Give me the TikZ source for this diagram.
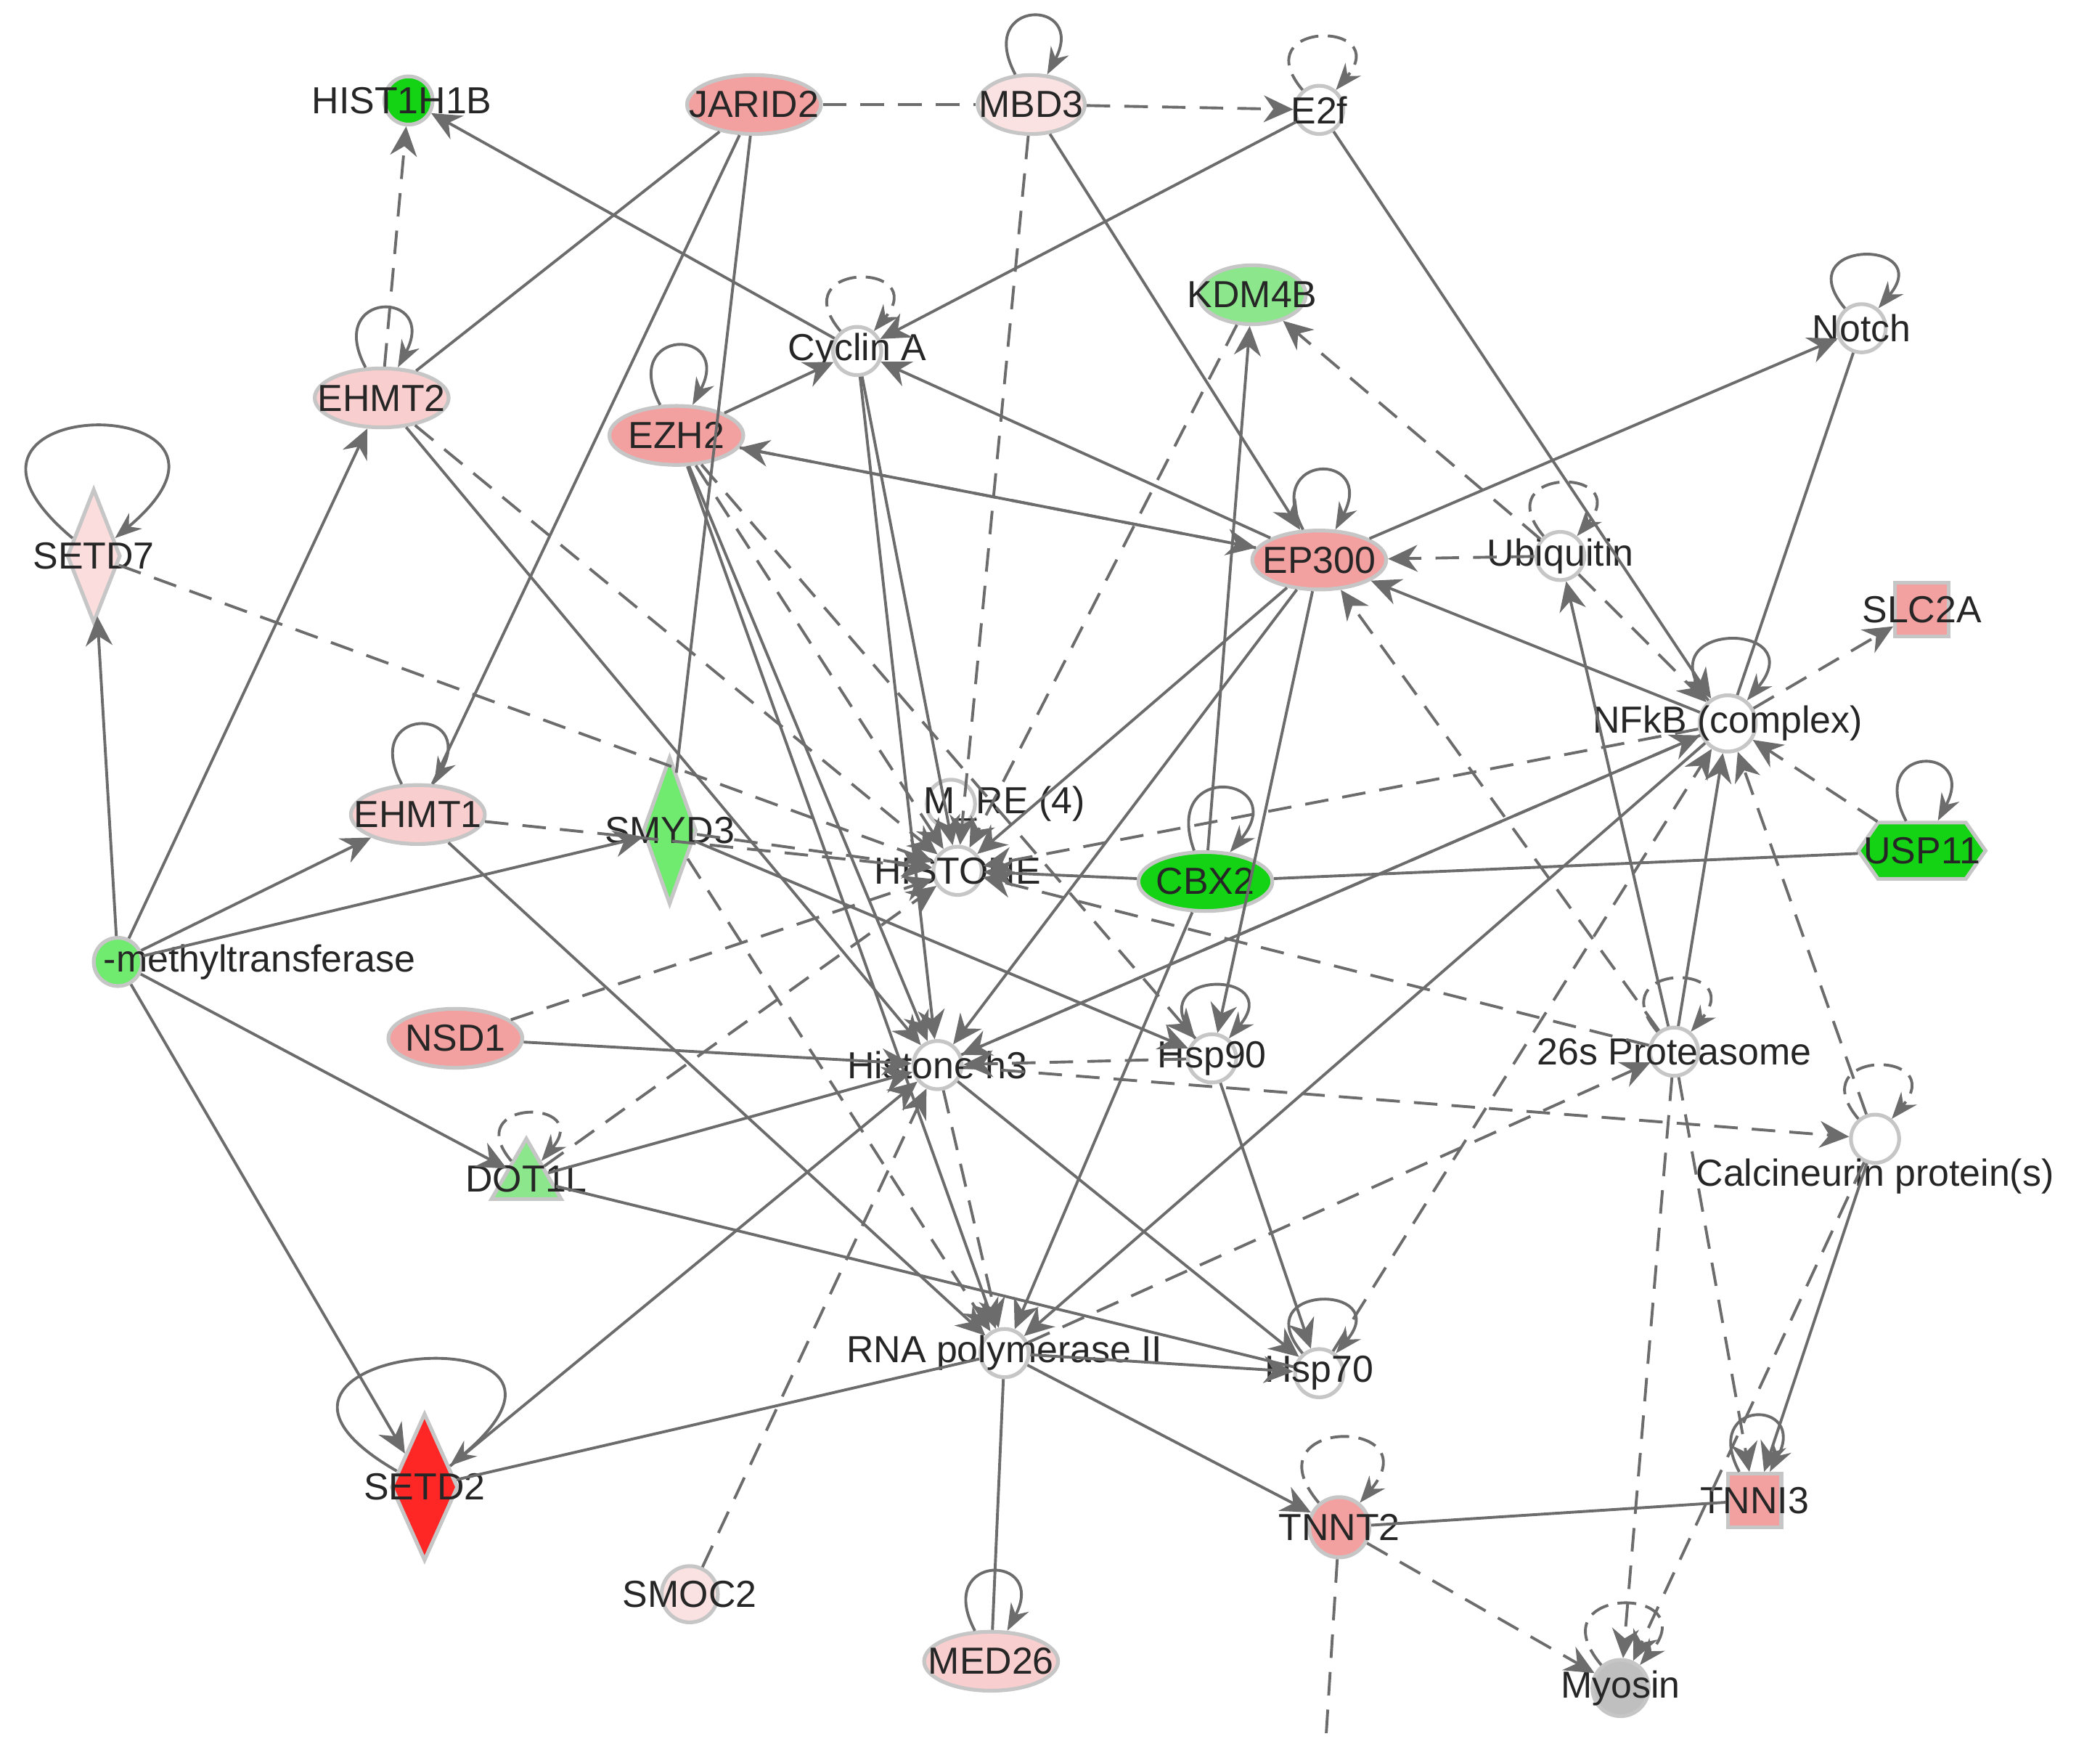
\documentclass[tikz,border=0pt]{standalone}
\usepackage{fontspec}
\setmainfont{Liberation Sans}
\usetikzlibrary{shapes.geometric,shapes.symbols,arrows.meta}
\tikzset{
  mol/.style={draw=gray!45, thick, fill=white, inner sep=0},
  circ/.style={mol, circle, minimum size=.36cm},
  ell/.style={mol, ellipse, minimum width=1.0cm, minimum height=.44cm},
  dia/.style={mol, diamond, minimum width=.4cm, minimum height=1cm},
  sq/.style={mol, rectangle, minimum size=.4cm},
  lbl/.style={font=\fontsize{8}{9}\selectfont, text=black!85},
  rel/.style={draw=gray!85!black, semithick, -{Stealth[length=2.2mm,width=2mm]}},
  line/.style={draw=gray!85!black, semithick},
  drel/.style={rel, dash pattern=on 5pt off 3pt},
  sloop/.style={draw=gray!85!black, semithick, -{Stealth[length=2mm]}, looseness=7},
}
\definecolor{pinkA}{RGB}{249,206,206}
\definecolor{pinkB}{RGB}{243,160,160}
\definecolor{greenA}{RGB}{140,230,140}
\definecolor{greenB}{RGB}{20,210,20}
\begin{document}
\begin{tikzpicture}
\useasboundingbox (0,0) rectangle (15.68,-12.98);
% nodes
\node[circ, fill=greenB] (hist1) at (3.05,-.75) {};
\node[lbl] at (3.0,-.75) {HIST1H1B};
\node[ell, fill=pinkB] (jarid2) at (5.63,-.78) {};
\node[lbl] at (5.63,-.78) {JARID2};
\node[ell, fill=pinkA!60, minimum width=.8cm] (mbd3) at (7.7,-.78) {};
\node[lbl] at (7.7,-.78) {MBD3};
\node[circ] (e2f) at (9.85,-.82) {};
\node[lbl] at (9.85,-.82) {E2f};
\node[ell, fill=greenA, minimum width=.8cm] (kdm4b) at (9.35,-2.2) {};
\node[lbl] at (9.35,-2.2) {KDM4B};
\node[circ] (cycA) at (6.4,-2.62) {};
\node[lbl] at (6.4,-2.62) {Cyclin A};
\node[circ] (notch) at (13.9,-2.45) {};
\node[lbl] at (13.9,-2.45) {Notch};
\node[ell, fill=pinkA] (ehmt2) at (2.85,-2.97) {};
\node[lbl] at (2.85,-2.97) {EHMT2};
\node[ell, fill=pinkB] (ezh2) at (5.05,-3.25) {};
\node[lbl] at (5.05,-3.25) {EZH2};
\node[dia, fill=pinkA!70] (setd7) at (.7,-4.15) {};
\node[lbl] at (.7,-4.15) {SETD7};
\node[ell, fill=pinkB] (ep300) at (9.85,-4.18) {};
\node[lbl] at (9.85,-4.18) {EP300};
\node[circ] (ubiq) at (11.65,-4.15) {};
\node[lbl] at (11.65,-4.15) {Ubiquitin};
\node[sq, fill=pinkB] (slc2a) at (14.35,-4.55) {};
\node[lbl] at (14.35,-4.55) {SLC2A};
\node[circ, minimum size=.42cm] (nfkb) at (12.9,-5.4) {};
\node[lbl] at (12.9,-5.4) {NFkB (complex)};
\node[mol, signal, signal to=east and west, signal pointer angle=110, minimum width=.95cm, minimum height=.42cm, fill=greenB] (usp11) at (14.35,-6.35) {};
\node[lbl] at (14.35,-6.35) {USP11};
\node[ell, fill=pinkA] (ehmt1) at (3.12,-6.08) {};
\node[lbl] at (3.12,-6.08) {EHMT1};
\node[dia, fill=greenA!80!green, minimum height=1.1cm] (smyd3) at (5.0,-6.2) {};
\node[lbl] at (5.0,-6.2) {SMYD3};
\node[circ] (mre) at (7.1,-6.0) {};
\node[lbl] at (7.5,-6.0) {M\_RE (4)};
\node[circ] (histone) at (7.15,-6.5) {};
\node[lbl] at (7.15,-6.5) {HISTONE};
\node[ell, fill=greenB] (cbx2) at (9.0,-6.58) {};
\node[lbl] at (9.0,-6.58) {CBX2};
\node[circ, fill=greenA!80!green] (mtf) at (.88,-7.18) {};
\node[lbl, anchor=west] at (.65,-7.18) {-methyltransferase};
\node[ell, fill=pinkB] (nsd1) at (3.4,-7.75) {};
\node[lbl] at (3.4,-7.75) {NSD1};
\node[circ] (h3) at (7.0,-7.95) {};
\node[lbl] at (7.0,-7.95) {Histone h3};
\node[circ] (hsp90) at (9.05,-7.9) {};
\node[lbl] at (9.05,-7.9) {Hsp90};
\node[circ] (p26s) at (12.5,-7.85) {};
\node[lbl] at (12.5,-7.85) {26s Proteasome};
\node[circ] (calc) at (14.0,-8.5) {};
\node[lbl] at (14.0,-8.78) {Calcineurin protein(s)};
\node[mol, regular polygon, regular polygon sides=3, minimum size=.6cm, fill=greenA] (dot1l) at (3.93,-8.8) {};
\node[lbl] at (3.93,-8.8) {DOT1L};
\node[circ] (rnap) at (7.5,-10.1) {};
\node[lbl] at (7.5,-10.1) {RNA polymerase II};
\node[circ] (hsp70) at (9.85,-10.25) {};
\node[lbl] at (9.85,-10.25) {Hsp70};
\node[dia, fill=red!85, minimum width=.5cm, minimum height=1.1cm] (setd2) at (3.17,-11.1) {};
\node[lbl] at (3.17,-11.1) {SETD2};
\node[circ, fill=pinkB, minimum size=.45cm] (tnnt2) at (10.0,-11.4) {};
\node[lbl] at (10.0,-11.4) {TNNT2};
\node[sq, fill=pinkB] (tnni3) at (13.1,-11.2) {};
\node[lbl] at (13.1,-11.2) {TNNI3};
\node[circ, fill=pinkA!60, minimum size=.42cm] (smoc2) at (5.15,-11.9) {};
\node[lbl] at (5.15,-11.9) {SMOC2};
\node[ell, fill=pinkA] (med26) at (7.4,-12.4) {};
\node[lbl] at (7.4,-12.4) {MED26};
\node[circ, fill=gray!50, minimum size=.42cm] (myosin) at (12.1,-12.6) {};
\node[lbl] at (12.1,-12.6) {Myosin};
\coordinate (off) at (9.9,-12.98);
% self loops
\foreach \n in {notch,nfkb,hsp90,hsp70}
  \draw[sloop] (\n) to[out=130,in=50] (\n);
\foreach \n in {mbd3,ehmt2,ezh2,ep300,usp11,ehmt1,tnni3,med26}
  \draw[sloop, looseness=7] (\n) to[out=118,in=62] (\n);
\foreach \n in {e2f,cycA,ubiq,p26s,calc,dot1l,tnnt2,myosin}
  \draw[sloop, dash pattern=on 4pt off 2pt] (\n) to[out=130,in=50] (\n);
\draw[sloop, looseness=14] (setd7) to[out=140,in=40] (setd7);
\draw[sloop, looseness=12] (setd2) to[out=150,in=40] (setd2);
\draw[sloop] (cbx2) to[out=110,in=50] (cbx2);
% solid edges
\foreach \a/\b in {cycA/hist1,e2f/cycA,e2f/nfkb,mbd3/ep300,ezh2/cycA,ezh2/ep300,ezh2/h3,ezh2/rnap,
  ep300/cycA,ep300/histone,ep300/h3,ep300/notch,cbx2/kdm4b,nfkb/ep300,p26s/nfkb,p26s/ubiq,
  calc/tnni3,nfkb/rnap,rnap/tnnt2,rnap/hsp70,dot1l/h3,mtf/setd7,mtf/ehmt2,mtf/ehmt1,mtf/smyd3,
  mtf/dot1l,mtf/setd2,ehmt1/rnap,ehmt2/h3,nsd1/h3,smyd3/hsp90,hsp90/hsp70,h3/hsp70,cbx2/histone,
  cbx2/rnap,cycA/h3,cycA/histone,setd2/h3,ep300/hsp90,nfkb/h3}
  \draw[rel] (\a) -- (\b);
\foreach \a/\b in {jarid2/ehmt2,jarid2/ehmt1,jarid2/smyd3,notch/nfkb,usp11/cbx2,tnni3/tnnt2,
  rnap/med26,setd2/rnap,dot1l/hsp70}
  \draw[line] (\a) -- (\b);
% dashed edges
\draw[line, dash pattern=on 5pt off 3pt] (jarid2) -- (mbd3);
\foreach \a/\b in {mbd3/e2f,ehmt2/hist1,mbd3/histone,ezh2/histone,ep300/ezh2,kdm4b/histone,
  ubiq/kdm4b,ubiq/ep300,ubiq/nfkb,nfkb/slc2a,usp11/nfkb,p26s/ep300,p26s/histone,p26s/myosin,
  p26s/tnni3,calc/nfkb,calc/myosin,nfkb/histone,h3/nfkb,tnnt2/myosin,smoc2/h3,setd7/histone,
  ehmt1/histone,ehmt2/histone,nsd1/histone,smyd3/histone,smyd3/rnap,hsp90/h3,h3/calc,h3/rnap,
  dot1l/histone,hsp70/nfkb,rnap/p26s,ezh2/hsp90}
  \draw[drel] (\a) -- (\b);
\draw[line, dash pattern=on 5pt off 3pt] (tnnt2) -- (off);
\end{tikzpicture}
\end{document}
